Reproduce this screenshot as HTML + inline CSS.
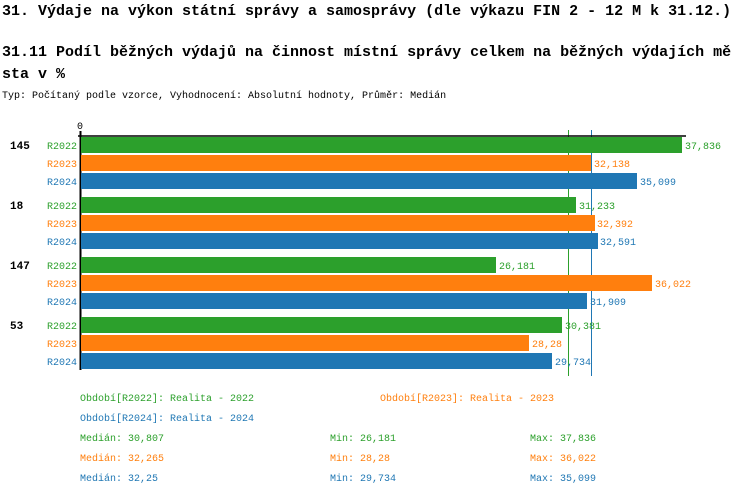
<!DOCTYPE html>
<html><head><meta charset="utf-8"><style>
body{margin:0;background:#fff;width:750px;height:496px;overflow:hidden}
svg{display:block}
text{font-family:"Liberation Mono","DejaVu Sans Mono",monospace}
</style></head><body>
<svg width="750" height="496" xmlns="http://www.w3.org/2000/svg">
<text x="2" y="15" font-size="15" font-weight="bold">31. Výdaje na výkon státní správy a samosprávy (dle výkazu FIN 2 - 12 M k 31.12.)</text>
<text x="2" y="56" font-size="15" font-weight="bold">31.11 Podíl běžných výdajů na činnost místní správy celkem na běžných výdajích mě</text>
<text x="2" y="78" font-size="15" font-weight="bold">sta v %</text>
<text x="2" y="98" font-size="10">Typ: Počítaný podle vzorce, Vyhodnocení: Absolutní hodnoty, Průměr: Medián</text>
<text x="77" y="129" font-size="10">0</text>
<line x1="568.5" y1="130" x2="568.5" y2="376" stroke="#2ca02c" stroke-width="1"/>
<line x1="591.5" y1="130" x2="591.5" y2="376" stroke="#1f77b4" stroke-width="1"/>
<line x1="78" y1="136" x2="686" y2="136" stroke="#000" stroke-width="1.5"/>
<line x1="80.5" y1="131" x2="80.5" y2="370" stroke="#000" stroke-width="2"/>
<g font-size="10">
<text x="10" y="149" font-size="11" font-weight="bold">145</text>
<rect x="81" y="137" width="601" height="16" fill="#2ca02c"/><text x="47" y="149" fill="#2ca02c">R2022</text><text x="685" y="149" fill="#2ca02c">37,836</text>
<rect x="81" y="155" width="510" height="16" fill="#ff7f0e"/><text x="47" y="167" fill="#ff7f0e">R2023</text><text x="594" y="167" fill="#ff7f0e">32,138</text>
<rect x="81" y="173" width="556" height="16" fill="#1f77b4"/><text x="47" y="185" fill="#1f77b4">R2024</text><text x="640" y="185" fill="#1f77b4">35,099</text>
<text x="10" y="209" font-size="11" font-weight="bold">18</text>
<rect x="81" y="197" width="495" height="16" fill="#2ca02c"/><text x="47" y="209" fill="#2ca02c">R2022</text><text x="579" y="209" fill="#2ca02c">31,233</text>
<rect x="81" y="215" width="514" height="16" fill="#ff7f0e"/><text x="47" y="227" fill="#ff7f0e">R2023</text><text x="597" y="227" fill="#ff7f0e">32,392</text>
<rect x="81" y="233" width="517" height="16" fill="#1f77b4"/><text x="47" y="245" fill="#1f77b4">R2024</text><text x="600" y="245" fill="#1f77b4">32,591</text>
<text x="10" y="269" font-size="11" font-weight="bold">147</text>
<rect x="81" y="257" width="415" height="16" fill="#2ca02c"/><text x="47" y="269" fill="#2ca02c">R2022</text><text x="499" y="269" fill="#2ca02c">26,181</text>
<rect x="81" y="275" width="571" height="16" fill="#ff7f0e"/><text x="47" y="287" fill="#ff7f0e">R2023</text><text x="655" y="287" fill="#ff7f0e">36,022</text>
<rect x="81" y="293" width="506" height="16" fill="#1f77b4"/><text x="47" y="305" fill="#1f77b4">R2024</text><text x="590" y="305" fill="#1f77b4">31,909</text>
<text x="10" y="329" font-size="11" font-weight="bold">53</text>
<rect x="81" y="317" width="481" height="16" fill="#2ca02c"/><text x="47" y="329" fill="#2ca02c">R2022</text><text x="565" y="329" fill="#2ca02c">30,381</text>
<rect x="81" y="335" width="448" height="16" fill="#ff7f0e"/><text x="47" y="347" fill="#ff7f0e">R2023</text><text x="532" y="347" fill="#ff7f0e">28,28</text>
<rect x="81" y="353" width="471" height="16" fill="#1f77b4"/><text x="47" y="365" fill="#1f77b4">R2024</text><text x="555" y="365" fill="#1f77b4">29,734</text>
</g>
<g font-size="10">
<text x="80" y="401" fill="#2ca02c">Období[R2022]: Realita - 2022</text>
<text x="380" y="401" fill="#ff7f0e">Období[R2023]: Realita - 2023</text>
<text x="80" y="421" fill="#1f77b4">Období[R2024]: Realita - 2024</text>
<text x="80" y="441" fill="#2ca02c">Medián: 30,807</text><text x="330" y="441" fill="#2ca02c">Min: 26,181</text><text x="530" y="441" fill="#2ca02c">Max: 37,836</text>
<text x="80" y="461" fill="#ff7f0e">Medián: 32,265</text><text x="330" y="461" fill="#ff7f0e">Min: 28,28</text><text x="530" y="461" fill="#ff7f0e">Max: 36,022</text>
<text x="80" y="481" fill="#1f77b4">Medián: 32,25</text><text x="330" y="481" fill="#1f77b4">Min: 29,734</text><text x="530" y="481" fill="#1f77b4">Max: 35,099</text>
</g>
</svg>
</body></html>
